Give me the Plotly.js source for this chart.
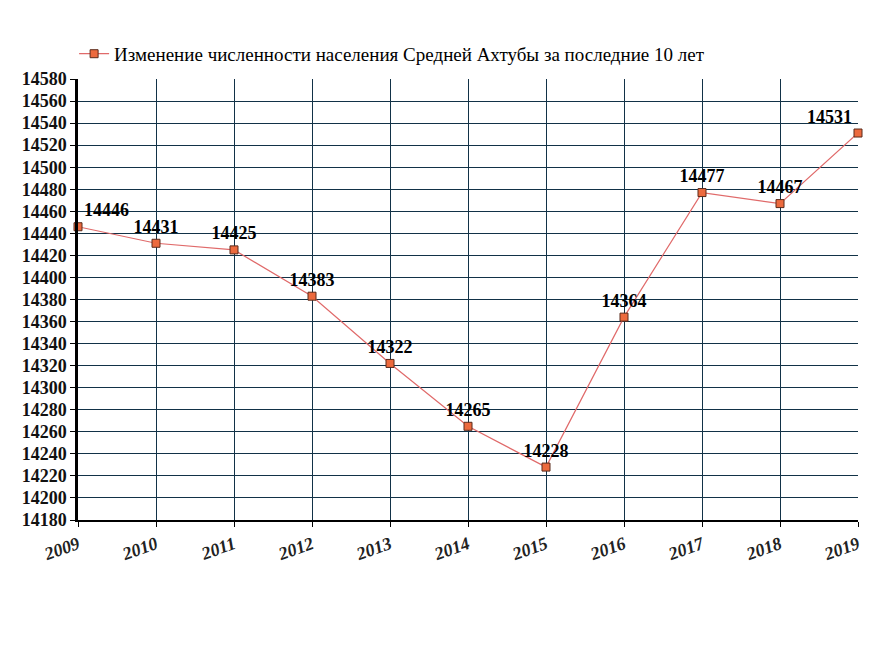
<!DOCTYPE html>
<html><head><meta charset="utf-8">
<script src="https://cdn.plot.ly/plotly-3.0.1.min.js"></script>
<style>body{margin:0;background:#fff}</style></head>
<body><div id="chart" style="width:884px;height:650px"></div>
<script>
const years = [2009, 2010, 2011, 2012, 2013, 2014, 2015, 2016, 2017, 2018, 2019];
const population = [14446, 14431, 14425, 14383, 14322, 14265, 14228, 14364, 14477, 14467, 14531];
const seriesName = 'Изменение численности населения Средней Ахтубы за последние 10 лет';
const labelPos = years.map((y, i) => i === 0 ? 'top right' : (i === years.length - 1 ? 'top left' : 'top center'));

const trace = {
  x: years, y: population, name: seriesName,
  type: 'scatter', mode: 'lines+markers+text',
  text: population.map(String), textposition: labelPos,
  textfont: {family: 'Liberation Serif, serif', size: 18, color: '#000', weight: 'bold'},
  line: {color: '#e06a6a', width: 1.2},
  marker: {symbol: 'square', size: 8, color: '#ec6a3e', line: {color: '#5a2a1a', width: 1}},
  cliponaxis: false
};

const layout = {
  width: 884, height: 650,
  margin: {l: 78, r: 26, t: 79, b: 130},
  paper_bgcolor: '#fff', plot_bgcolor: '#fff',
  showlegend: true,
  legend: {x: -0.005, xanchor: 'left', y: 1.057, yanchor: 'middle', bgcolor: 'rgba(0,0,0,0)',
    font: {family: 'Liberation Serif, serif', size: 19, color: '#000'}},
  xaxis: {range: [2009, 2019], tickvals: years, ticktext: years.map(String), tickangle: -20,
    showgrid: true, gridcolor: '#123247', gridwidth: 1,
    showline: true, linecolor: '#000', linewidth: 2, mirror: false,
    ticks: 'outside', ticklen: 5, tickcolor: '#000', zeroline: false,
    tickfont: {family: 'Liberation Serif, serif', size: 18, color: '#222', weight: 'bold', style: 'italic'}},
  yaxis: {range: [14180, 14580], dtick: 20, tick0: 14180, tickformat: 'd',
    showgrid: true, gridcolor: '#123247', gridwidth: 1,
    showline: true, linecolor: '#000', linewidth: 2.5,
    ticks: 'outside', ticklen: 5, tickcolor: '#000', zeroline: false,
    tickfont: {family: 'Liberation Serif, serif', size: 18, color: '#111', weight: 'bold'}}
};
Plotly.newPlot('chart', [trace], layout, {displayModeBar: false});
</script></body></html>
